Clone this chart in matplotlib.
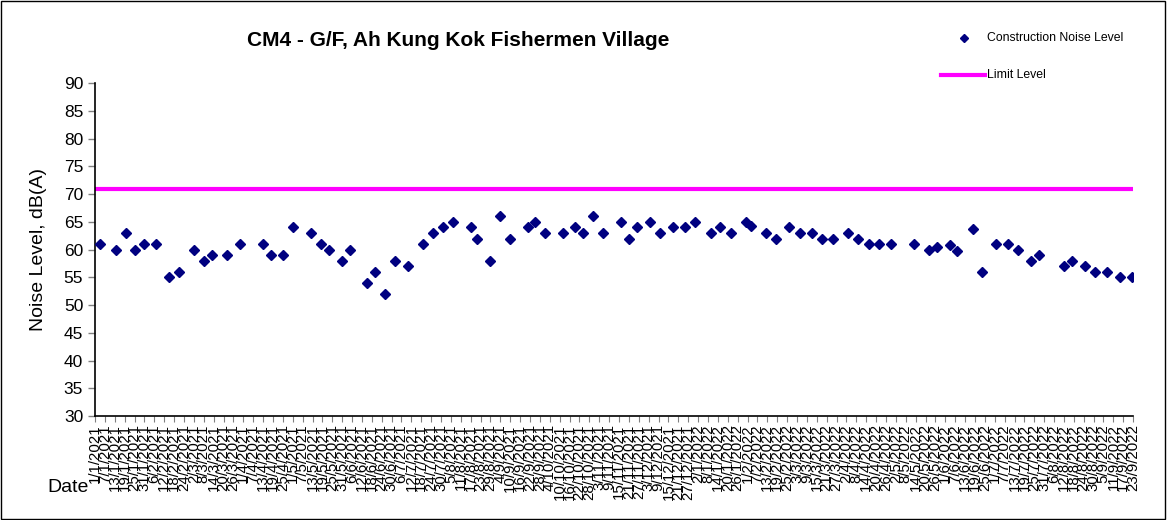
import datetime as dt
import numpy as np
import matplotlib
matplotlib.use("Agg")
import matplotlib.pyplot as plt
from matplotlib.lines import Line2D

plt.rcParams['font.family'] = ['Liberation Sans', 'DejaVu Sans']

# measured noise, dB(A)
fechas = [
    "4/1/2021", "14/1/2021", "20/1/2021", "25/1/2021", "31/1/2021", "7/2/2021",
    "15/2/2021", "21/2/2021", "2/3/2021", "8/3/2021", "13/3/2021", "22/3/2021",
    "30/3/2021", "13/4/2021", "18/4/2021", "25/4/2021", "1/5/2021", "12/5/2021",
    "18/5/2021", "23/5/2021", "31/5/2021", "5/6/2021", "15/6/2021", "20/6/2021",
    "26/6/2021", "2/7/2021", "10/7/2021", "19/7/2021", "25/7/2021", "31/7/2021",
    "6/8/2021", "17/8/2021", "21/8/2021", "29/8/2021", "4/9/2021", "10/9/2021",
    "21/9/2021", "25/9/2021", "1/10/2021", "12/10/2021", "19/10/2021", "24/10/2021",
    "30/10/2021", "5/11/2021", "16/11/2021", "21/11/2021", "26/11/2021", "4/12/2021",
    "10/12/2021", "18/12/2021", "25/12/2021", "31/12/2021", "10/1/2022", "15/1/2022",
    "22/1/2022", "31/1/2022", "3/2/2022", "12/2/2022", "18/2/2022", "26/2/2022",
    "5/3/2022", "12/3/2022", "18/3/2022", "25/3/2022", "3/4/2022", "9/4/2022",
    "16/4/2022", "22/4/2022", "29/4/2022", "13/5/2022", "22/5/2022", "27/5/2022",
    "4/6/2022", "8/6/2022", "18/6/2022", "23/6/2022", "2/7/2022", "9/7/2022",
    "15/7/2022", "23/7/2022", "28/7/2022", "12/8/2022", "17/8/2022", "25/8/2022",
    "31/8/2022", "7/9/2022", "15/9/2022", "22/9/2022",
]
ruido = [
    61, 60, 63, 60, 61, 61, 55, 56, 60, 58, 59, 59,
    61, 61, 59, 59, 64, 63, 61, 60, 58, 60, 54, 56,
    52, 58, 57, 61, 63, 64, 65, 64, 62, 58, 66, 62,
    64, 65, 63, 63, 64, 63, 66, 63, 65, 62, 64, 65,
    63, 64, 64, 65, 63, 64, 63, 65, 64.2, 63, 62, 64,
    63, 63, 62, 62, 63, 62, 61, 61, 61, 61, 60, 60.4,
    60.8, 59.7, 63.7, 56, 61, 61, 60, 58, 59, 57, 58, 57,
    56, 56, 55, 55,
]
limite = 71

def a_fecha(s):
    d, m, y = (int(v) for v in s.split("/"))
    return dt.date(y, m, d)

x = [a_fecha(f) for f in fechas]
inicio = dt.date(2021, 1, 1)
fin = dt.date(2022, 9, 23)
ticks = [inicio + dt.timedelta(days=6 * i) for i in range((fin - inicio).days // 6 + 1)]

fig = plt.figure(figsize=(11.67, 5.2), dpi=100)
ax = fig.add_axes([0.0814, 0.2, 0.8896, 0.64])

ax.axhline(limite, color="#FF00FF", lw=3, zorder=2)
ax.plot(x, ruido, ls="none", marker="D", ms=5.6, color="#000080",
        markeredgecolor="#000080", zorder=3)

ax.set_ylim(30, 90)
ax.set_yticks(np.arange(30, 91, 5))
ax.set_xlim(inicio - dt.timedelta(days=0.7), fin + dt.timedelta(days=0.7))
ax.set_xticks(ticks)
ax.set_xticklabels([f"{t.day}/{t.month}/{t.year}" for t in ticks],
                   rotation=90, fontsize=10.8, va="top")
ax.tick_params(axis="y", labelsize=12.5, color="#808080", length=5, width=1)
ax.tick_params(axis="x", color="#808080", length=4, width=0.8, pad=2)

for lado in ("top", "right"):
    ax.spines[lado].set_visible(False)
ax.spines["left"].set_color("black")
ax.spines["left"].set_linewidth(1.2)
ax.spines["bottom"].set_color("black")
ax.spines["bottom"].set_linewidth(1.2)

ax.set_ylabel("Noise Level, dB(A)", fontsize=14, labelpad=12)
fig.text(0.041, 0.063, "Date", fontsize=14, ha="left", va="center")
fig.text(0.393, 0.923, "CM4 - G/F, Ah Kung Kok Fishermen Village",
         fontsize=15, fontweight="bold", ha="center", va="center")

# legend drawn by hand in figure coords
fig.add_artist(Line2D([0.826], [0.927], marker="D", ms=4.5, color="#000080",
                      transform=fig.transFigure))
fig.text(0.846, 0.927, "Construction Noise Level", fontsize=8.8, va="center")
fig.add_artist(Line2D([0.806, 0.844], [0.855, 0.855], color="#FF00FF", lw=3,
                      transform=fig.transFigure))
fig.text(0.846, 0.855, "Limit Level", fontsize=8.8, va="center")

# outer frame
fig.add_artist(plt.Rectangle((0.001, 0.002), 0.997, 0.996, fill=False,
                             edgecolor="black", lw=1, transform=fig.transFigure))

fig.savefig("out.png", dpi=100)
